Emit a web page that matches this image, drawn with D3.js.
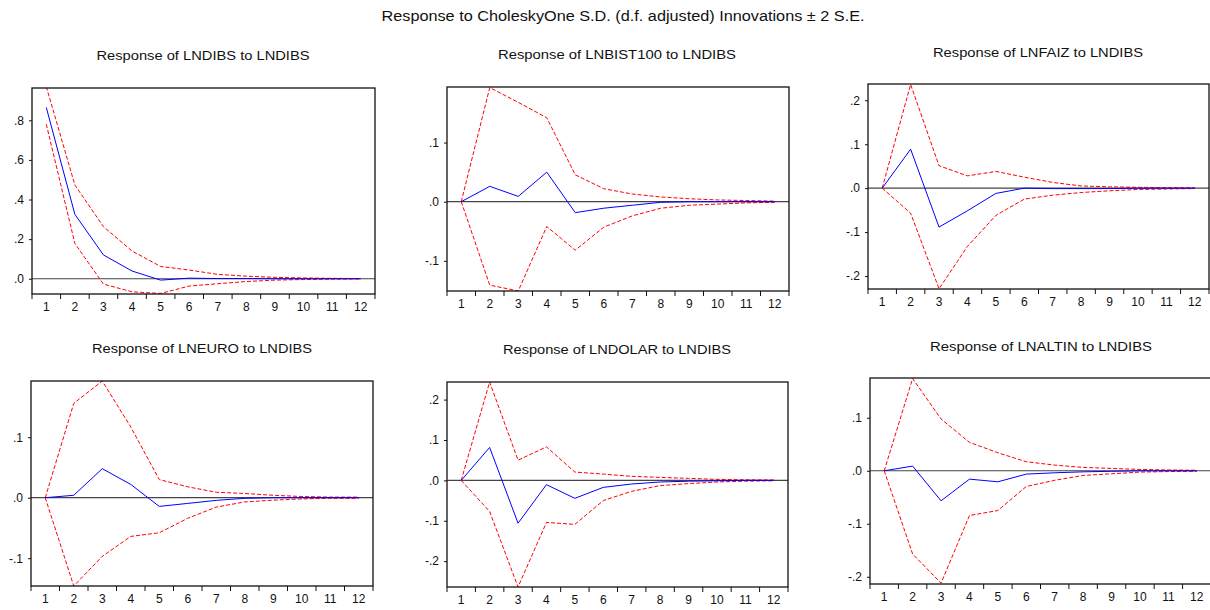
<!DOCTYPE html>
<html>
<head>
<meta charset="utf-8">
<script src="https://cdn.jsdelivr.net/npm/d3@7"></script>
<style>
  body { margin: 0; background: #fff; }
  svg text { font-family: Arial, "Liberation Sans", sans-serif; fill: #111; }
</style>
</head>
<body>
<svg id="chart" width="1210" height="610"></svg>
<script>
// chart data
const periods = [1, 2, 3, 4, 5, 6, 7, 8, 9, 10, 11, 12];
const mainTitle = "Response to CholeskyOne S.D. (d.f. adjusted) Innovations \u00b1 2 S.E.";
const titles = [
  "Response of LNDIBS to LNDIBS",
  "Response of LNBIST100 to LNDIBS",
  "Response of LNFAIZ to LNDIBS",
  "Response of LNEURO to LNDIBS",
  "Response of LNDOLAR to LNDIBS",
  "Response of LNALTIN to LNDIBS"
];

// impulse responses (blue)
const respDibs   = [0.865, 0.325, 0.12, 0.039, -0.007, 0.003, 0.001, 0.001, 0, 0, 0, 0];
const respBist   = [0, 0.026, 0.009, 0.05, -0.0185, -0.011, -0.006, -0.001, 0, 0, 0, 0];
const respFaiz   = [0, 0.0886, -0.0886, -0.0515, -0.012, 0, -0.001, -0.001, -0.001, 0, 0, 0];
const respEuro   = [0, 0.004, 0.048, 0.022, -0.0144, -0.0094, -0.0044, -0.001, 0, 0, 0, 0];
const respDolar  = [0, 0.0815, -0.106, -0.0107, -0.0444, -0.0173, -0.009, -0.004, -0.002, -0.001, 0, 0];
const respAltin  = [0, 0.0088, -0.0567, -0.0158, -0.0208, -0.0063, -0.0038, -0.002, -0.001, 0, 0, 0];

// +2 S.E. bands (red, upper)
const upDibs  = [0.97, 0.473, 0.263, 0.14, 0.062, 0.044, 0.022, 0.013, 0.007, 0.004, 0.002, 0.001];
const upBist  = [0, 0.193, 0.168, 0.142, 0.0455, 0.022, 0.013, 0.008, 0.005, 0.003, 0.002, 0.001];
const upFaiz  = [0, 0.236, 0.051, 0.028, 0.038, 0.025, 0.013, 0.005, 0.003, 0.002, 0.001, 0.001];
const upEuro  = [0, 0.156, 0.193, 0.117, 0.03, 0.018, 0.009, 0.007, 0.004, 0.002, 0.001, 0.001];
const upDolar = [0, 0.2436, 0.05, 0.083, 0.0206, 0.0156, 0.01, 0.0074, 0.005, 0.0025, 0.0015, 0.001];
const upAltin = [0, 0.174, 0.0977, 0.0536, 0.034, 0.017, 0.0107, 0.0063, 0.0044, 0.0025, 0.0015, 0.001];

// -2 S.E. bands (red, lower)
const loDibs  = [0.78, 0.178, -0.027, -0.066, -0.074, -0.037, -0.025, -0.014, -0.007, -0.004, -0.002, -0.001];
const loBist  = [0, -0.141, -0.151, -0.042, -0.082, -0.043, -0.024, -0.011, -0.006, -0.004, -0.002, -0.001];
const loFaiz  = [0, -0.057, -0.229, -0.1325, -0.062, -0.025, -0.016, -0.01, -0.006, -0.003, -0.002, -0.001];
const loEuro  = [0, -0.146, -0.097, -0.064, -0.058, -0.034, -0.0155, -0.007, -0.004, -0.002, -0.001, -0.001];
const loDolar = [0, -0.077, -0.264, -0.104, -0.109, -0.05, -0.027, -0.013, -0.008, -0.004, -0.002, -0.001];
const loAltin = [0, -0.157, -0.212, -0.0844, -0.075, -0.0296, -0.018, -0.0088, -0.0057, -0.0025, -0.0015, -0.001];

// y ranges and ticks of each panel
const yDomains = [[-0.077, 0.963], [-0.151, 0.194], [-0.2295, 0.237], [-0.146, 0.193], [-0.264, 0.2436], [-0.2136, 0.175]];
const yTicks = [
  [0, 0.2, 0.4, 0.6, 0.8],
  [-0.1, 0, 0.1],
  [-0.2, -0.1, 0, 0.1, 0.2],
  [-0.1, 0, 0.1],
  [-0.2, -0.1, 0, 0.1, 0.2],
  [-0.2, -0.1, 0, 0.1]
];

const responses = [respDibs, respBist, respFaiz, respEuro, respDolar, respAltin];
const uppers = [upDibs, upBist, upFaiz, upEuro, upDolar, upAltin];
const lowers = [loDibs, loBist, loFaiz, loEuro, loDolar, loAltin];

// layout of the plot boxes: left, right, top, bottom
const boxes = [
  [32, 375, 88, 294], [447, 789, 87, 291], [868, 1209, 84, 289],
  [31, 373, 381, 586], [447, 788, 382, 587], [870, 1211, 378, 584]
];
const titleY = [60, 59, 57, 353, 354, 350.5];
const titleX = [203, 617, 1038, 202, 617, 1041];
const titleW = [213, 238, 210, 220, 228, 222];

const svg = d3.select('#chart');

svg.append('text')
  .attr('x', 623).attr('y', 20.5)
  .attr('text-anchor', 'middle')
  .attr('font-size', 14)
  .attr('textLength', 483)
  .attr('lengthAdjust', 'spacingAndGlyphs')
  .text(mainTitle);

// formats ".8", "-.1", ".0"
const fmt = v => {
  const s = d3.format('.1f')(Math.abs(v)).replace(/^0/, '');
  return (v < -1e-9 ? '-' : '') + s;
};

boxes.forEach((b, i) => {
  const [x0, x1, y0, y1] = b;
  const x = d3.scaleBand().domain(periods).range([x0, x1]);
  const y = d3.scaleLinear().domain(yDomains[i]).range([y1, y0]);
  const g = svg.append('g');

  g.append('text')
    .attr('x', titleX[i]).attr('y', titleY[i])
    .attr('text-anchor', 'middle')
    .attr('font-size', 13.5)
    .attr('textLength', titleW[i])
    .attr('lengthAdjust', 'spacingAndGlyphs')
    .text(titles[i]);

  const clipId = 'clip' + i;
  g.append('clipPath').attr('id', clipId)
    .append('rect').attr('x', x0).attr('y', y0).attr('width', x1 - x0).attr('height', y1 - y0);

  // zero line
  g.append('line')
    .attr('x1', x0).attr('x2', x1)
    .attr('y1', y(0)).attr('y2', y(0))
    .attr('stroke', '#444').attr('stroke-width', 1.2);

  const line = d3.line()
    .x((d, j) => x(periods[j]) + x.bandwidth() / 2)
    .y(d => y(d));

  const plot = g.append('g').attr('clip-path', `url(#${clipId})`);
  [uppers[i], lowers[i]].forEach(s => {
    plot.append('path').datum(s)
      .attr('d', line)
      .attr('fill', 'none')
      .attr('stroke', '#ff0000')
      .attr('stroke-width', 1)
      .attr('stroke-dasharray', '4,2');
  });
  plot.append('path').datum(responses[i])
    .attr('d', line)
    .attr('fill', 'none')
    .attr('stroke', '#0000ff')
    .attr('stroke-width', 1);

  // frame
  g.append('rect')
    .attr('x', x0).attr('y', y0)
    .attr('width', x1 - x0).attr('height', y1 - y0)
    .attr('fill', 'none').attr('stroke', '#111').attr('stroke-width', 1.3);

  // y axis
  const ya = g.append('g').attr('transform', `translate(${x0},0)`)
    .call(d3.axisLeft(y).tickValues(yTicks[i]).tickFormat(fmt).tickSize(3).tickPadding(5));
  ya.select('.domain').remove();
  ya.selectAll('text').attr('font-size', 12).attr('font-family', 'Arial, "Liberation Sans", sans-serif').attr('fill', '#111');
  ya.selectAll('line').attr('stroke', '#111');

  // x axis: ticks at band edges, labels centred
  const xa = g.append('g').attr('transform', `translate(0,${y1})`);
  const edges = periods.map(p => x(p)).concat([x1]);
  xa.selectAll('line').data(edges).enter().append('line')
    .attr('x1', d => d).attr('x2', d => d)
    .attr('y1', 0).attr('y2', 5)
    .attr('stroke', '#111');
  xa.selectAll('text').data(periods).enter().append('text')
    .attr('x', d => x(d) + x.bandwidth() / 2)
    .attr('y', 17)
    .attr('text-anchor', 'middle')
    .attr('font-size', 12)
    .text(d => d);
});
</script>
</body>
</html>
